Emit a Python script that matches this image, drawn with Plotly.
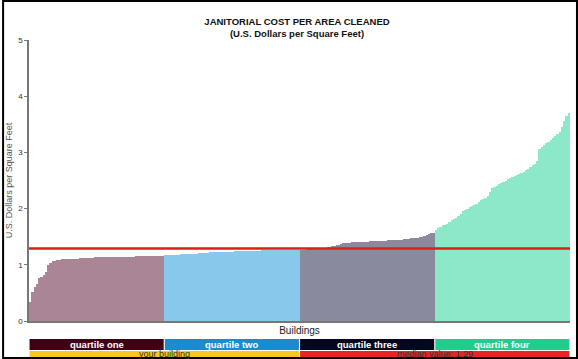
import plotly.graph_objects as go

q1 = [0.34,0.52,0.60,0.66,0.77,0.79,0.82,0.88,1.00,1.03,
      1.06,1.07,1.08,1.09,1.10,1.10,1.10,1.11,1.11,1.11,
      1.11,1.11,1.12,1.12,1.12,1.12,1.12,1.12,1.12,1.13,
      1.13,1.13,1.13,1.13,1.13,1.13,1.13,1.13,1.14,1.14,
      1.14,1.14,1.14,1.14,1.14,1.14,1.14,1.15,1.15,1.15,
      1.15,1.15,1.15,1.15,1.15,1.15,1.16,1.16,1.16,1.16]
q2 = [1.17,1.17,1.17,1.18,1.18,1.18,1.18,1.19,1.19,1.19,
      1.19,1.20,1.20,1.20,1.20,1.21,1.21,1.21,1.21,1.21,
      1.22,1.22,1.22,1.22,1.22,1.23,1.23,1.23,1.23,1.23,
      1.23,1.24,1.24,1.24,1.24,1.24,1.24,1.25,1.25,1.25,
      1.25,1.25,1.25,1.26,1.26,1.26,1.26,1.26,1.26,1.26,
      1.26,1.27,1.27,1.27,1.27,1.27,1.27,1.27,1.27,1.27]
q3 = [1.27,1.27,1.27,1.28,1.28,1.28,1.28,1.29,1.29,1.29,
      1.30,1.30,1.31,1.32,1.33,1.34,1.35,1.36,1.37,1.38,
      1.39,1.39,1.39,1.40,1.40,1.40,1.40,1.41,1.41,1.41,
      1.41,1.42,1.42,1.42,1.42,1.43,1.43,1.43,1.43,1.44,
      1.44,1.44,1.44,1.45,1.45,1.45,1.46,1.46,1.46,1.47,
      1.47,1.48,1.48,1.49,1.50,1.51,1.53,1.55,1.56,1.57]
q4 = [1.62,1.66,1.67,1.70,1.71,1.73,1.76,1.79,1.81,1.84,
      1.86,1.90,1.95,1.98,2.00,2.02,2.05,2.07,2.09,2.12,
      2.15,2.17,2.19,2.22,2.30,2.36,2.39,2.41,2.43,2.45,
      2.47,2.50,2.52,2.54,2.56,2.58,2.60,2.62,2.64,2.66,
      2.69,2.71,2.74,2.77,2.80,2.84,3.06,3.10,3.13,3.16,
      3.19,3.22,3.26,3.29,3.32,3.36,3.46,3.55,3.65,3.70]

quartiles = [q1, q2, q3, q4]
quartile_labels = ["quartile one", "quartile two", "quartile three", "quartile four"]
bar_colors = ["#a98596", "#88c8ea", "#8a8a9e", "#8ce8c8"]
strip_colors = ["#3e0018", "#1b8bd0", "#060620", "#22cc8c"]
median_value = 1.29
y_ticks = [0, 1, 2, 3, 4, 5]

W, H = 578, 359
ML, MR, MT, MB = 27, 8, 40, 38
PW = W - ML - MR
PH = H - MT - MB

def py(p):  # pixel y -> paper y
    return (H - MB - p) / PH

def pxp(p):  # pixel x -> paper x
    return (p - ML) / PW

fig = go.Figure()
start = 0
bounds = []
for vals, col in zip(quartiles, bar_colors):
    xs = list(range(start, start + len(vals)))
    fig.add_trace(go.Bar(x=xs, y=vals, marker=dict(color=col, line=dict(width=0)),
                         showlegend=False, hoverinfo="y"))
    bounds.append((start, start + len(vals) - 1))
    start += len(vals)
N = start

FONT = "Liberation Sans, Arial, sans-serif"
shapes = []
annotations = []
# median line
shapes.append(dict(type="line", xref="paper", yref="y", x0=0, x1=1,
                   y0=median_value, y1=median_value,
                   line=dict(color="#e01c1c", width=2.5), layer="above"))
# quartile strip
for (a, b), col, lab in zip(bounds, strip_colors, quartile_labels):
    shapes.append(dict(type="rect", xref="x", yref="paper",
                       x0=a - 0.5 + 0.25, x1=b + 0.5 - 0.25,
                       y0=py(350), y1=py(339), fillcolor=col, line=dict(width=0)))
    annotations.append(dict(xref="x", yref="paper", x=(a + b) / 2, y=py(344.5),
                            text="<b>" + lab + "</b>", showarrow=False,
                            font=dict(color="white", size=9.5, family=FONT),
                            yanchor="middle", xanchor="center"))
# second strip
half = bounds[1][1]
shapes.append(dict(type="rect", xref="x", yref="paper", x0=-0.25, x1=half + 0.25,
                   y0=py(364), y1=py(351), fillcolor="#f8c81c", line=dict(width=0)))
shapes.append(dict(type="rect", xref="x", yref="paper", x0=half + 0.75, x1=N - 0.75,
                   y0=py(364), y1=py(351), fillcolor="#ea2424", line=dict(width=0)))
annotations.append(dict(xref="x", yref="paper", x=half / 2, y=py(353.5),
                        text="your building", showarrow=False,
                        font=dict(color="#333", size=9, family=FONT),
                        yanchor="middle"))
annotations.append(dict(xref="x", yref="paper", x=(half + N) / 2, y=py(353.5),
                        text="median value: " + str(median_value), showarrow=False,
                        font=dict(color="#333", size=9, family=FONT),
                        yanchor="middle"))
# frame
shapes.append(dict(type="rect", xref="paper", yref="paper",
                   x0=pxp(1), x1=pxp(577), y0=py(358), y1=py(1),
                   line=dict(color="black", width=2), fillcolor="rgba(0,0,0,0)"))

fig.update_layout(
    width=W, height=H,
    margin=dict(l=ML, r=MR, t=MT, b=MB),
    paper_bgcolor="white", plot_bgcolor="white",
    bargap=0,
    title=dict(text="<b>JANITORIAL COST PER AREA CLEANED</b><br><b>(U.S. Dollars per Square Feet)</b>",
               x=297 / W, xanchor="center", y=1 - 25 / H, yanchor="middle",
               font=dict(size=9.5, family=FONT, color="#111")),
    xaxis=dict(range=[-0.5, N - 0.5], showticklabels=False, ticks="", showgrid=False,
               zeroline=False, showline=True, linecolor="#777", linewidth=1.5,
               title=dict(text="Buildings", font=dict(size=10, family=FONT, color="#222"),
                          standoff=5)),
    yaxis=dict(range=[0, 5], tickvals=y_ticks, ticks="outside", ticklen=3, tickcolor="#777",
               showgrid=False, zeroline=False, showline=True, linecolor="#777", linewidth=1.5,
               tickfont=dict(size=8, family=FONT, color="#333"),
               title=dict(text="U.S. Dollars per Square Feet",
                          font=dict(size=9, family=FONT, color="#555"), standoff=4)),
    shapes=shapes, annotations=annotations,
)
fig.write_html("out.html", config={"displayModeBar": False},
               post_script="document.body.style.margin='0';document.body.style.overflow='hidden';")
